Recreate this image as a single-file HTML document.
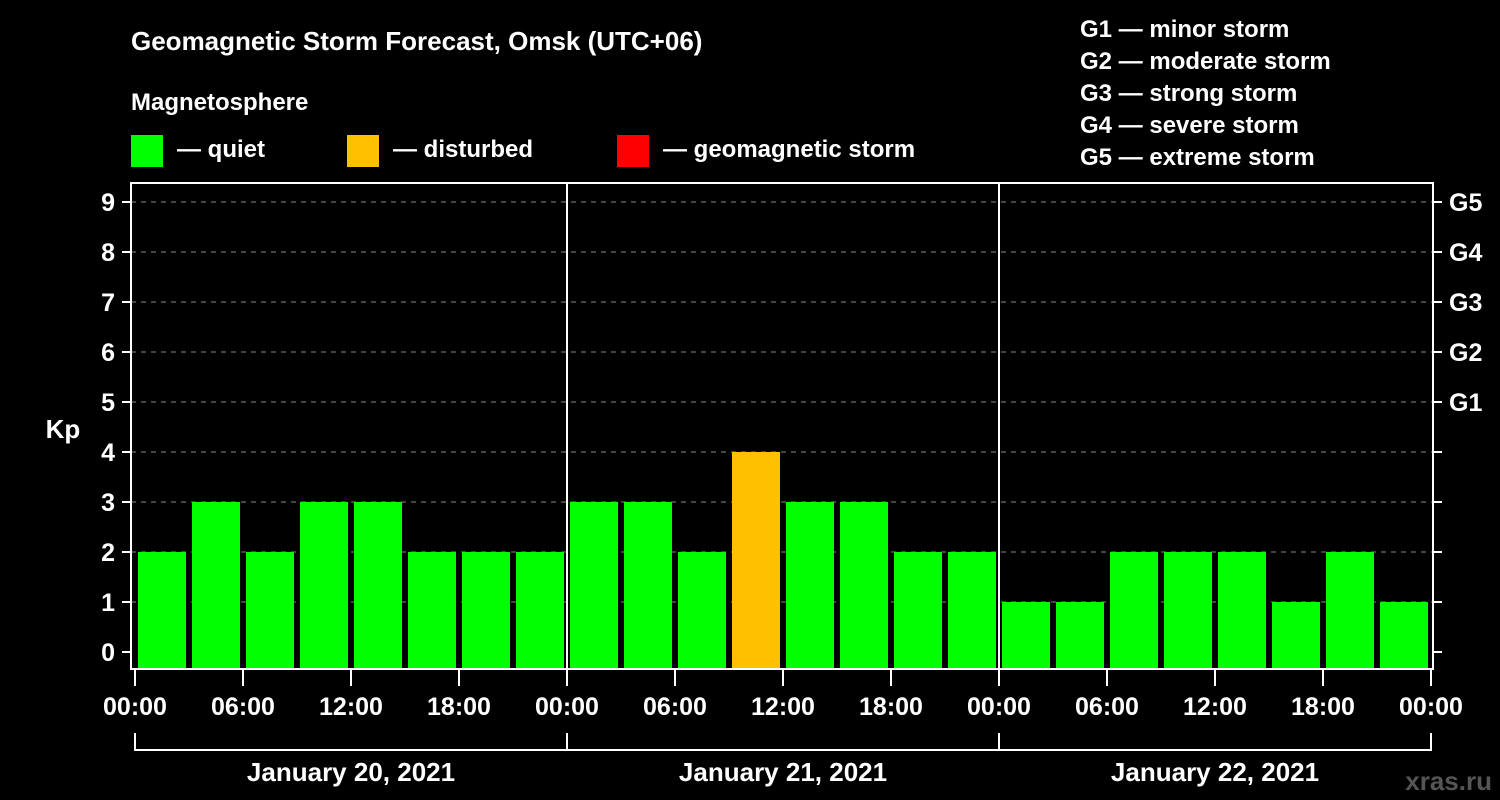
<!DOCTYPE html>
<html><head><meta charset="utf-8"><style>
body{margin:0;background:#000;width:1500px;height:800px;overflow:hidden}
svg{display:block;font-family:"Liberation Sans",Arial,sans-serif;font-weight:bold}
</style></head><body>
<svg id="c" width="1500" height="800">
<rect width="1500" height="800" fill="#000"/>
<text x="131" y="50" fill="#fff" font-size="26">Geomagnetic Storm Forecast, Omsk (UTC+06)</text>
<text x="131" y="110" fill="#fff" font-size="24">Magnetosphere</text>
<g><rect x="131" y="135" width="32" height="32" fill="#00ff00"/><text x="177" y="157" fill="#fff" font-size="24">— quiet</text></g>
<g><rect x="347" y="135" width="32" height="32" fill="#ffc000"/><text x="393" y="157" fill="#fff" font-size="24">— disturbed</text></g>
<g><rect x="617" y="135" width="32" height="32" fill="#ff0000"/><text x="663" y="157" fill="#fff" font-size="24">— geomagnetic storm</text></g>
<g fill="#fff" font-size="24">
<text x="1080" y="37">G1 — minor storm</text>
<text x="1080" y="69">G2 — moderate storm</text>
<text x="1080" y="101">G3 — strong storm</text>
<text x="1080" y="133">G4 — severe storm</text>
<text x="1080" y="165">G5 — extreme storm</text>
</g>
<text x="63" y="438" fill="#fff" font-size="26" text-anchor="middle">Kp</text>
<text x="1492" y="790" fill="#555" font-size="26" text-anchor="end">xras.ru</text>
<g id="plot"></g>
</svg>
<script>
const kpValues=[2,3,2,3,3,2,2,2, 3,3,2,4,3,3,2,2, 1,1,2,2,2,1,2,1];
const yTicks=[0,1,2,3,4,5,6,7,8,9];
const gLabels=["G1","G2","G3","G4","G5"];
const xTickLabels=["00:00","06:00","12:00","18:00","00:00","06:00","12:00","18:00","00:00","06:00","12:00","18:00","00:00"];
const dayLabels=["January 20, 2021","January 21, 2021","January 22, 2021"];
const NS="http://www.w3.org/2000/svg";
const L=131,R=1433,T=183,B=669,X0=135,SLOT=54;
const y=v=>652-50*v;
const x=i=>X0+SLOT*i;
const g=document.getElementById('plot');
function mk(t,a,txt){const e=document.createElementNS(NS,t);for(const k in a)e.setAttribute(k,a[k]);if(txt!=null)e.textContent=txt;g.appendChild(e);return e;}
yTicks.forEach(v=>{
 if(v>0){const e=mk('line',{x1:L,x2:R,y1:y(v),y2:y(v),stroke:'#888','stroke-width':1,'stroke-dasharray':'5,5'});
 
 }
 const t=mk('line',{x1:L-9,x2:L,y1:y(v),y2:y(v),stroke:'#fff','stroke-width':2});
 
 
 const t2=mk('line',{x1:R,x2:R+9,y1:y(v),y2:y(v),stroke:'#fff','stroke-width':2});
 
 
 const l=mk('text',{x:L-16,y:y(v)+9,fill:'#fff','font-size':25,'text-anchor':'end'},String(v));
 
 
});
gLabels.forEach((s,i)=>{
 const l=mk('text',{x:R+16,y:y(5+i)+9,fill:'#fff','font-size':25},s);
 
 
});
kpValues.forEach((v,i)=>{
 const col=v>=5?'#ff0000':(v>=4?'#ffc000':'#00ff00');
 const r=mk('rect',{x:x(i)+3,y:y(v),width:48,height:B-y(v),fill:col});
 
 
});
[1,2].forEach(d=>{const e=mk('line',{x1:x(8*d),x2:x(8*d),y1:T,y2:B,stroke:'#fff','stroke-width':2});
 
 });
const fr=mk('rect',{x:L,y:T,width:R-L,height:B-T,fill:'none',stroke:'#fff','stroke-width':2});


xTickLabels.forEach((s,k)=>{
 const xx=x(2*k);
 const t=mk('line',{x1:xx,x2:xx,y1:B,y2:B+17,stroke:'#fff','stroke-width':2});
 
 
 const l=mk('text',{x:xx,y:715,fill:'#fff','font-size':25,'text-anchor':'middle'},s);
 
 
});
const br=mk('line',{x1:x(0),x2:x(24),y1:750,y2:750,stroke:'#fff','stroke-width':2});


[0,1,2,3].forEach(d=>{const e=mk('line',{x1:x(8*d),x2:x(8*d),y1:733,y2:751,stroke:'#fff','stroke-width':2});
 
 });
dayLabels.forEach((s,d)=>{
 const l=mk('text',{x:x(8*d+4),y:781,fill:'#fff','font-size':26,'text-anchor':'middle'},s);
 
 
});
</script>
</body></html>
